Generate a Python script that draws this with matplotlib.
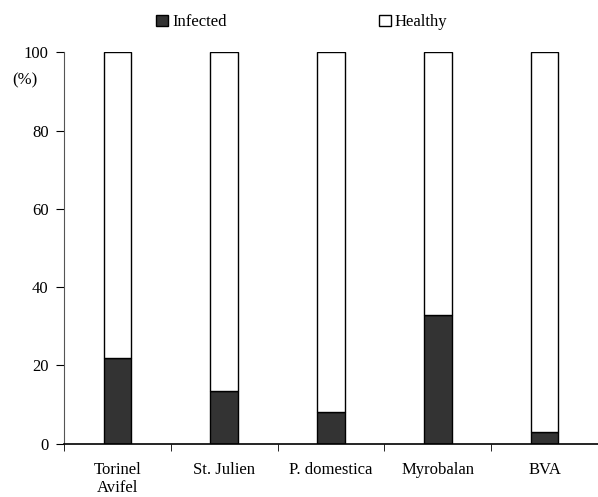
import matplotlib.pyplot as plt
import matplotlib.transforms as mtransforms
from matplotlib.patches import Patch

# Data
rootstocks = ['Torinel\nAvifel', 'St. Julien', 'P. domestica', 'Myrobalan', 'BVA']
infected = [22, 13.5, 8, 33, 3]
healthy = [78, 86.5, 92, 67, 97]
yticks = [0, 20, 40, 60, 80, 100]

plt.rcParams['font.family'] = ['Liberation Serif', 'DejaVu Serif']

fig = plt.figure(figsize=(5.98, 4.97), dpi=100)
ax = fig.add_axes([0.107, 0.107, 0.893, 0.788])

x = list(range(len(rootstocks)))
ax.bar(x, infected, width=0.26, color='#333333', edgecolor='black', linewidth=1)
ax.bar(x, healthy, width=0.26, bottom=infected, color='white', edgecolor='black', linewidth=1)

ax.set_xlim(-0.5, len(rootstocks) - 0.5)
ax.set_ylim(0, 100)

# category labels at centers, tick marks between categories
ax.set_xticks(x)
ax.set_xticklabels(rootstocks, fontsize=12, linespacing=1.15)
ax.tick_params(axis='x', which='major', length=0, pad=13)
ax.set_xticks([i - 0.5 for i in range(len(rootstocks) + 1)], minor=True)
ax.tick_params(axis='x', which='minor', length=5, direction='out')

ax.set_yticks(yticks)
ax.set_yticklabels([str(v) for v in yticks], fontsize=12)
ax.tick_params(axis='y', length=6, direction='out', pad=5)

for s in ['top', 'right']:
    ax.spines[s].set_visible(False)
ax.spines['left'].set_color('#555555')
ax.spines['bottom'].set_linewidth(1.2)

trans = mtransforms.blended_transform_factory(ax.transAxes, ax.transData)
ax.text(-0.073, 92.9, '(%)', transform=trans, ha='center', va='center', fontsize=12)

handles = [Patch(facecolor='#333333', edgecolor='black', label='Infected'),
           Patch(facecolor='white', edgecolor='black', label='Healthy')]
fig.legend(handles=handles, loc='center', bbox_to_anchor=(0.505, 0.955), ncol=2,
           frameon=False, fontsize=12, handlelength=0.7, handleheight=0.7,
           handletextpad=0.25, columnspacing=9.15)

fig.savefig('out.png', dpi=100)
